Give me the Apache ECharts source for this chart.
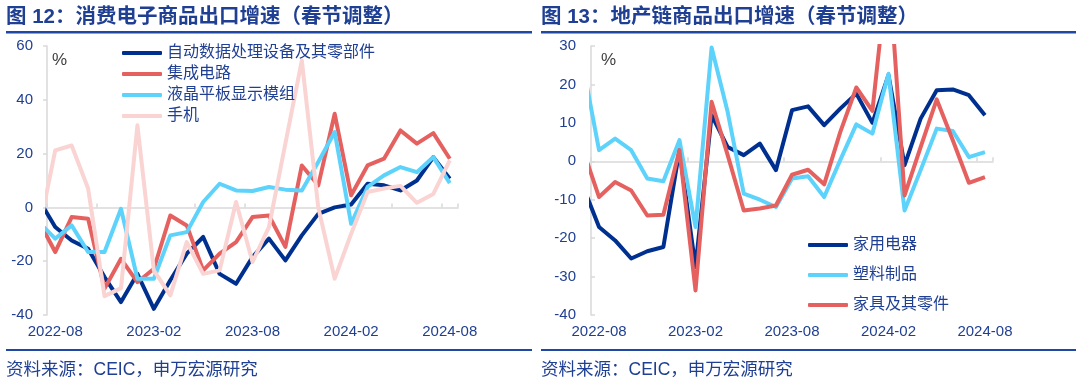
<!DOCTYPE html>
<html>
<head>
<meta charset="utf-8">
<script src="https://cdn.jsdelivr.net/npm/echarts@6/dist/echarts.min.js"></script>
<style>
html,body{margin:0;padding:0;background:#fff;}
#c{width:1080px;height:384px;}
</style>
</head>
<body>
<div id="c"></div>
<script>
// categories (first value in each series belongs to 2022-07, partly clipped at the axis)
const months = ['2022-08','2022-09','2022-10','2022-11','2022-12','2023-01','2023-02','2023-03','2023-04','2023-05','2023-06','2023-07','2023-08','2023-09','2023-10','2023-11','2023-12','2024-01','2024-02','2024-03','2024-04','2024-05','2024-06','2024-07','2024-08'];

// Fig 12 series (%), 2022-07 .. 2024-08
const computerParts = [3, -7.3, -12.3, -15.4, -25.9, -35.2, -24.7, -37.7, -27.1, -17.2, -11, -24.7, -28.4, -18.5, -11.6, -19.7, -10.4, -2.4, 0, 1.1, 8.8, 8.2, 6.3, 10, 18.7, 10.7];
const integratedCircuits = [-5, -16.6, -3.6, -4.2, -30.2, -19.1, -27.8, -22.8, -3, -6.7, -23.4, -17.2, -12.9, -3.6, -3, -14.7, 15.6, 8.2, 34.8, 4.5, 15.6, 18.1, 28.6, 23.7, 27.6, 18.1];
const lcdModules = [-5.4, -11.6, -6.7, -16.6, -16.6, -0.5, -26.5, -26.5, -10.4, -9.2, 2, 8.8, 6.3, 6.1, 7.6, 6.6, 6.3, 16.9, 28, -6.1, 7.6, 11.9, 15, 13.1, 18.7, 9];
const phones = [-9, 21.2, 23, 7, -33, -30, 30.5, -23.4, -32.7, -12.9, -24.7, -23.4, 2, -20.3, -7.3, 23.7, 54.6, 0, -26.5, -9.8, 5.7, 7, 8, 1.7, 5, 17.5];

// Fig 13 series (%), 2022-07 .. 2024-08
const appliances = [-6.5, -17.1, -20.6, -25.3, -23.4, -22.3, 2.9, -27.5, 12, 3.7, 1.6, 4.6, -2.3, 13.3, 14.3, 9.4, 13.7, 17.6, 10, 22.4, -1, 11.1, 18.5, 18.7, 17.2, 12];
const plastics = [25, 2.9, 5.9, 2.9, -4.5, -5.2, 5.5, -17.1, 29.6, 12.8, -8.4, -10, -11.9, -4.5, -3.9, -9.3, 0.3, 9.6, 7.2, 22.8, -12.8, -2.3, 8.5, 7.9, 1.1, 2.4];
const furniture = [3, -9.3, -5.4, -7.6, -14.1, -13.9, 2.9, -33.6, 15.5, 1.6, -12.8, -12.3, -11.5, -3.5, -2.2, -6, 7.6, 19.2, 13.1, 52, -8.9, 3.7, 16.1, 5.5, -5.6, -4.1];

const leftNames = ['自动数据处理设备及其零部件', '集成电路', '液晶平板显示模组', '手机'];
const rightNames = ['家用电器', '塑料制品', '家具及其零件'];

const FONT = '"Liberation Sans", Arial, "Noto Sans CJK SC", sans-serif';
const TXT = '#1f3f93';
const RULE = '#1f48a5';
const GRAY = '#d9d9d9';
const C_DARK = '#00308f', C_RED = '#e5615f', C_SKY = '#5dd3fb', C_PINK = '#fad3d3';

function pts(arr) { return arr.map((v, i) => [i - 1, v]); }

function xAxes(grid, tickInterval) {
  return [
    { gridIndex: grid, type: 'category', data: months, boundaryGap: true,
      axisLine: { onZero: true, lineStyle: { color: GRAY, width: 1.5 } },
      axisTick: { show: true, inside: true, interval: tickInterval, length: 4, lineStyle: { color: GRAY, width: 1.5 } },
      axisLabel: { show: false }, splitLine: { show: false } },
    { gridIndex: grid, type: 'category', data: months, boundaryGap: true, position: 'bottom',
      axisLine: { show: false, onZero: false }, axisTick: { show: false },
      axisLabel: { interval: 5, margin: 9, color: TXT, fontSize: 15, fontFamily: FONT },
      splitLine: { show: false } },
    { gridIndex: grid, type: 'value', min: -0.5, max: 24.5, show: false, splitLine: { show: false } }
  ];
}

function line(name, arr, color, xi, yi) {
  return { name: name, type: 'line', xAxisIndex: xi, yAxisIndex: yi, data: pts(arr),
    symbol: 'none', clip: true, lineStyle: { color: color, width: 4, join: 'round' },
    itemStyle: { color: color } };
}

const chart = echarts.init(document.getElementById('c'), null, { renderer: 'canvas' });
chart.setOption({
  animation: false,
  backgroundColor: '#fff',
  textStyle: { fontFamily: FONT },
  grid: [
    { left: 47, top: 46, width: 411, height: 269 },
    { left: 591, top: 46, width: 402, height: 269 }
  ],
  xAxis: xAxes(0, 2).concat(xAxes(1, 5)),
  yAxis: [
    { gridIndex: 0, type: 'value', min: -40, max: 60, interval: 20,
      axisLine: { show: true, onZero: false, lineStyle: { color: GRAY, width: 1.5 } },
      axisTick: { show: true, length: 4, lineStyle: { color: GRAY, width: 1.5 } },
      axisLabel: { margin: 14, color: TXT, fontSize: 15, fontFamily: FONT },
      splitLine: { show: false } },
    { gridIndex: 1, type: 'value', min: -40, max: 30, interval: 10,
      axisLine: { show: true, onZero: false, lineStyle: { color: GRAY, width: 1.5 } },
      axisTick: { show: true, inside: true, length: 4, lineStyle: { color: GRAY, width: 1.5 } },
      axisLabel: { margin: 15, color: TXT, fontSize: 15, fontFamily: FONT },
      splitLine: { show: false } }
  ],
  legend: [
    { data: leftNames, orient: 'vertical', left: 122, top: 45, itemWidth: 40, itemHeight: 4,
      itemGap: 5, icon: 'roundRect', padding: 0,
      textStyle: { fontSize: 16, lineHeight: 16, color: TXT, fontFamily: FONT } },
    { data: rightNames, orient: 'vertical', left: 808, top: 237, itemWidth: 40, itemHeight: 4,
      itemGap: 14, icon: 'roundRect', padding: 0,
      textStyle: { fontSize: 16, lineHeight: 16, color: TXT, fontFamily: FONT } }
  ],
  series: [
    line(leftNames[0], computerParts, C_DARK, 2, 0),
    line(leftNames[1], integratedCircuits, C_RED, 2, 0),
    line(leftNames[2], lcdModules, C_SKY, 2, 0),
    line(leftNames[3], phones, C_PINK, 2, 0),
    line(rightNames[0], appliances, C_DARK, 5, 1),
    line(rightNames[1], plastics, C_SKY, 5, 1),
    line(rightNames[2], furniture, C_RED, 5, 1)
  ],
  graphic: [
    { type: 'text', left: 6, top: 7, style: { text: '图 12：消费电子商品出口增速（春节调整）', fill: TXT, font: 'bold 20.5px ' + FONT } },
    { type: 'text', left: 541, top: 7, style: { text: '图 13：地产链商品出口增速（春节调整）', fill: TXT, font: 'bold 20.5px ' + FONT } },
    { type: 'rect', shape: { x: 6, y: 31, width: 526, height: 2.5 }, style: { fill: RULE } },
    { type: 'rect', shape: { x: 541, y: 31, width: 535, height: 2.5 }, style: { fill: RULE } },
    { type: 'rect', shape: { x: 6, y: 349, width: 526, height: 2 }, style: { fill: RULE } },
    { type: 'rect', shape: { x: 541, y: 349, width: 535, height: 2 }, style: { fill: RULE } },
    { type: 'text', left: 6, top: 361, style: { text: '资料来源：CEIC，申万宏源研究', fill: TXT, font: '17.5px ' + FONT } },
    { type: 'text', left: 541, top: 361, style: { text: '资料来源：CEIC，申万宏源研究', fill: TXT, font: '17.5px ' + FONT } },
    { type: 'text', left: 52, top: 52, style: { text: '%', fill: '#404040', font: '17px ' + FONT } },
    { type: 'text', left: 601, top: 52, style: { text: '%', fill: '#404040', font: '17px ' + FONT } }
  ]
});
</script>
</body>
</html>
